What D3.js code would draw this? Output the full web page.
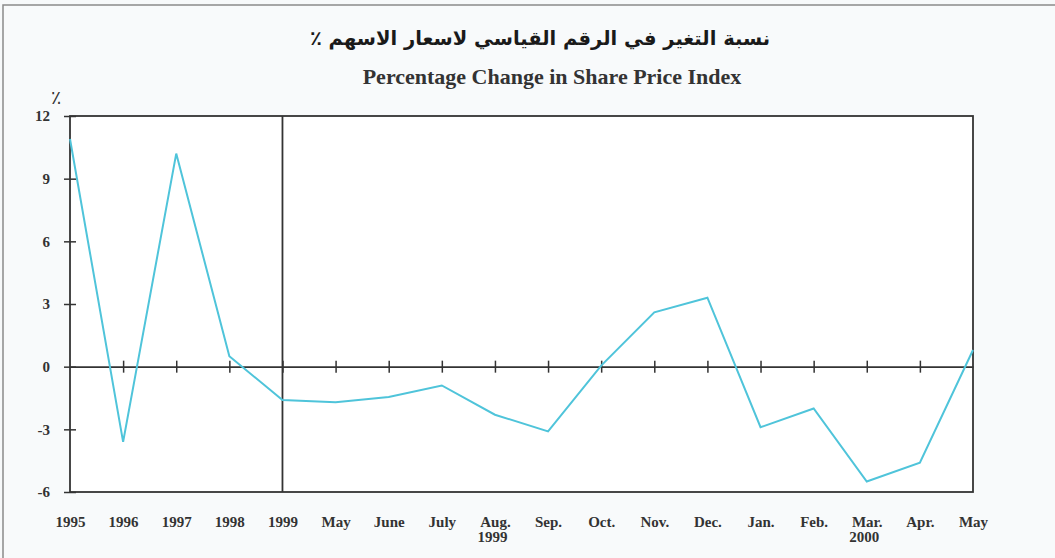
<!DOCTYPE html>
<html><head><meta charset="utf-8">
<script src="https://cdn.jsdelivr.net/npm/d3@7/dist/d3.min.js"></script>
<style>
html,body{margin:0;padding:0;background:#f7f9fa;}
svg{display:block;}
</style></head>
<body>
<svg id="chart" width="1055" height="558"></svg>
<script>
const categories = ["1995","1996","1997","1998","1999","May","June","July","Aug.","Sep.","Oct.","Nov.","Dec.","Jan.","Feb.","Mar.","Apr.","May "];
const subLabels = {"Aug.":"1999","Mar.":"2000"};
const values = [10.9,-3.6,10.2,0.5,-1.6,-1.7,-1.45,-0.9,-2.3,-3.1,0.05,2.6,3.3,-2.9,-2.0,-5.5,-4.6,0.8];
const yTicks = [-6,-3,0,3,6,9,12];
const titleAr = "نسبة التغير في الرقم القياسي لاسعار الاسهم ٪";
const titleEn = "Percentage Change in Share Price Index";
const yUnit = "٪";

const svg = d3.select("#chart");
const L = 70, R = 973, T = 116, B = 492;
const ink = "#333";

// outer frame
svg.append("rect").attr("x",3).attr("y",5).attr("width",1100).attr("height",600)
  .attr("fill","#f8fafb").attr("stroke","#8a8a8a").attr("stroke-width",1.5);

const x = d3.scalePoint().domain(categories).range([L,R]);
const y = d3.scaleLinear().domain([-6,12]).range([B,T]);

// plot background
svg.append("rect").attr("x",L).attr("y",T).attr("width",R-L).attr("height",B-T).attr("fill","#fff");

// titles
svg.append("text").attr("x",540).attr("y",45).attr("text-anchor","middle")
  .attr("direction","rtl")
  .style("font-family","'DejaVu Sans', sans-serif").style("font-weight","bold")
  .style("font-size","19.5px").attr("fill","#1a1a1a").text(titleAr);
svg.append("text").attr("x",552).attr("y",84).attr("text-anchor","middle")
  .style("font-family","'Liberation Serif','Times New Roman',serif").style("font-weight","bold")
  .style("font-size","22px").attr("fill","#333").text(titleEn);

// y axis
const yAxis = d3.axisLeft(y).tickValues(yTicks).tickSize(0).tickPadding(20).tickFormat(d=>String(d));
const gy = svg.append("g").attr("transform",`translate(${L},0)`).call(yAxis);
gy.select(".domain").remove();
gy.selectAll("text").style("font-family","'Liberation Serif',serif").style("font-weight","bold")
  .style("font-size","15px").attr("fill",ink);
gy.selectAll(".tick").append("line").attr("x1",-6).attr("x2",6).attr("stroke",ink).attr("stroke-width",1.5);
svg.append("text").attr("x",56).attr("y",104).attr("text-anchor","middle")
  .style("font-family","'DejaVu Sans',sans-serif").style("font-size","19px").attr("fill",ink).text(yUnit);

// zero line with ticks
const gz = svg.append("g").attr("transform",`translate(0,${y(0)})`)
  .call(d3.axisBottom(x).tickSize(0).tickFormat(""));
gz.select(".domain").attr("stroke",ink).attr("stroke-width",1.8);
gz.selectAll(".tick").filter((d,i)=>i>0 && i<categories.length-1)
  .append("line").attr("y1",-6).attr("y2",6).attr("stroke",ink).attr("stroke-width",1.5);

// x labels
const gx = svg.append("g").attr("transform",`translate(0,${B})`)
  .call(d3.axisBottom(x).tickSize(0).tickPadding(24));
gx.select(".domain").remove();
gx.selectAll("text").style("font-family","'Liberation Serif',serif").style("font-weight","bold")
  .style("font-size","15px").attr("fill",ink);
gx.selectAll(".tick").filter(d=>subLabels[d]).append("text")
  .attr("y",50).attr("x",-3).attr("text-anchor","middle")
  .style("font-family","'Liberation Serif',serif").style("font-weight","bold")
  .style("font-size","15px").attr("fill",ink).text(d=>subLabels[d]);

// 1999 divider
svg.append("line").attr("x1",x("1999")).attr("x2",x("1999")).attr("y1",T).attr("y2",B)
  .attr("stroke",ink).attr("stroke-width",1.8);

// frame
svg.append("rect").attr("x",L).attr("y",T).attr("width",R-L).attr("height",B-T)
  .attr("fill","none").attr("stroke",ink).attr("stroke-width",1.8);

// line
const line = d3.line().x((d,i)=>x(categories[i])).y(d=>y(d));
svg.append("path").datum(values).attr("d",line).attr("fill","none")
  .attr("stroke","#4fc4da").attr("stroke-width",2).attr("stroke-linejoin","miter");
</script>
</body></html>
